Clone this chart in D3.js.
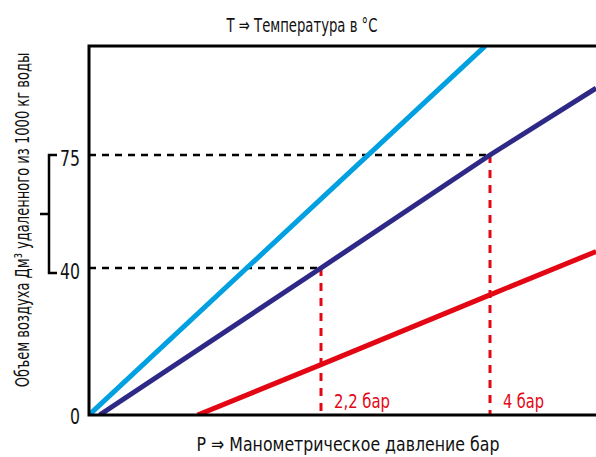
<!DOCTYPE html>
<html><head><meta charset="utf-8">
<script src="https://cdn.jsdelivr.net/npm/d3@7"></script>
<style>
html,body{margin:0;padding:0;background:#fff;}
text{font-family:"Liberation Sans Narrow","DejaVu Sans Condensed","Liberation Sans",sans-serif;font-stretch:condensed;}
</style></head>
<body>
<svg id="chart" width="596" height="457"></svg>
<script>
// ---- data ----
const titleText = "T ⇒ Температура в °C";
const xLabelText = "P ⇒ Манометрическое давление бар";
const yLabelText = "Объем воздуха Дм³ удаленного из 1000 кг воды";
const yTicks = [0, 40, 75];
const pressureMarks = [2.2, 4];
const pressureLabels = ["2,2 бар", "4 бар"];
const markVolumes = [40, 75];
const seriesNames = ["light", "dark", "red"];
const seriesColors = ["#00a0e1", "#2e2986", "#e30613"];
const lightBlue = [[0, 0], [3.95, 108.8]];
const darkBlue = [[0.1, 0], [2.2, 40], [4, 75], [5.13, 95.7]];
const redLine = [[1.03, 0], [2.2, 13.7], [4, 32.7], [5.13, 45.1]];

// ---- layout ----
const L = 89, R = 596, T = 46, B = 415;
const svg = d3.select("#chart");
const x = d3.scaleLinear().domain([0, 2.2, 4]).range([L, 321, 490]);
const y = d3.scaleLinear().domain([0, 40, 75]).range([B, 268, 155]);

// helper: place text at (tx,ty) with rotation and horizontal squeeze to a target width
function fitText(g, str, tx, ty, rot, size, width, anchor, color) {
  const t = g.append("text").attr("font-size", size).attr("fill", color || "#111")
    .attr("text-anchor", anchor).text(str);
  const w = t.node().getComputedTextLength();
  const k = Math.min(1.2, width / w);
  t.attr("transform", `translate(${tx},${ty}) rotate(${rot}) scale(${k},1)`);
  return t;
}

svg.append("clipPath").attr("id", "plotclip")
  .append("rect").attr("x", L).attr("y", T).attr("width", R - L).attr("height", B - T);

// dashed black guides
svg.append("g").selectAll("line").data(pressureMarks).join("line")
  .attr("x1", L).attr("x2", d => x(d))
  .attr("y1", (d, i) => y(markVolumes[i])).attr("y2", (d, i) => y(markVolumes[i]))
  .attr("stroke", "#000").attr("stroke-width", 2.5).attr("stroke-dasharray", "7,6");

// red dashed verticals
svg.append("g").selectAll("line").data(pressureMarks).join("line")
  .attr("x1", d => x(d)).attr("x2", d => x(d))
  .attr("y1", (d, i) => y(markVolumes[i])).attr("y2", B)
  .attr("stroke", "#e30613").attr("stroke-width", 3).attr("stroke-dasharray", "8,7");

// series lines
const line = d3.line().x(d => x(d[0])).y(d => y(d[1]));
const allSeries = [lightBlue, darkBlue, redLine];
svg.append("g").attr("clip-path", "url(#plotclip)")
  .selectAll("path").data(allSeries).join("path")
  .attr("d", line).attr("fill", "none")
  .attr("stroke", (d, i) => seriesColors[i]).attr("stroke-width", 5);

// frame
svg.append("path")
  .attr("d", `M${R},${T}H${L}V${B}H${R}`)
  .attr("fill", "none").attr("stroke", "#000").attr("stroke-width", 3);

// y tick labels
const tg = svg.append("g");
yTicks.forEach(d => fitText(tg, String(d), 80, y(d) + (d === 0 ? 9 : 11), 0, 22, String(d).length * 10, "end"));

// bracket
const bx = 49;
svg.append("path")
  .attr("d", `M57,${y(75)}H${bx}V${y(40) + 5}H57`)
  .attr("fill", "none").attr("stroke", "#000").attr("stroke-width", 2.5);
svg.append("line")
  .attr("x1", 40).attr("x2", bx)
  .attr("y1", (y(75) + y(40) + 5) / 2).attr("y2", (y(75) + y(40) + 5) / 2)
  .attr("stroke", "#000").attr("stroke-width", 2.5);

// pressure labels
const pg = svg.append("g");
pressureMarks.forEach((d, i) => fitText(pg, pressureLabels[i], x(d) + 13, 408, 0, 20, [56, 41][i], "start", "#e30613"));

// title & axis labels
fitText(svg, titleText, 302, 32, 0, 20, 151, "middle");
fitText(svg, xLabelText, 348, 451, 0, 20, 303, "middle");
fitText(svg, yLabelText, 29, 220, -90, 20, 335, "middle");
</script>
</body></html>
